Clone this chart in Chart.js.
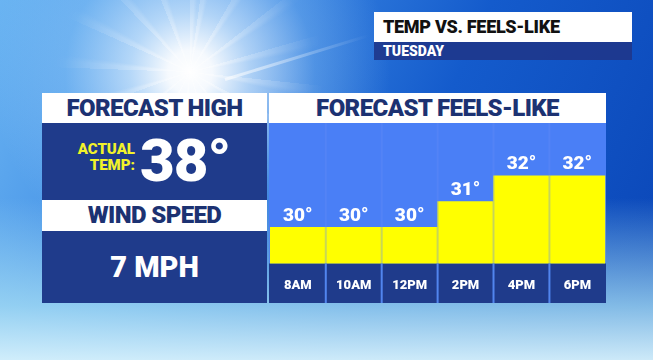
<!DOCTYPE html>
<html lang="en">
<head>
  <meta charset="UTF-8">
  <title>Temp vs. Feels-Like</title>
  <script src="https://cdn.jsdelivr.net/npm/chart.js"></script>
  <style>
    html, body { margin: 0; padding: 0; }
    body {
      width: 653px; height: 360px; overflow: hidden; position: relative;
      font-family: Roboto, "Liberation Sans", sans-serif; font-weight: 900;
      background:
        radial-gradient(circle at 190px 72px, rgba(255,255,255,1) 0, rgba(255,255,255,0.95) 22px, rgba(225,242,255,0.7) 60px, rgba(160,210,250,0.3) 125px, rgba(150,200,250,0) 200px),
        linear-gradient(to bottom, rgba(185,232,250,0) 55%, rgba(170,225,245,0.75) 85%, rgba(215,242,252,0.95) 100%),
        linear-gradient(115deg, #6ab4f2 0%, #3d8ae4 30%, #145bcc 60%, #0a45b6 100%);
    }
    #rays {
      position: absolute; left: 30px; top: -88px; width: 320px; height: 320px;
      background: repeating-conic-gradient(from 8deg, rgba(255,255,255,0.35) 0deg 3deg, rgba(255,255,255,0) 6deg 22deg);
      -webkit-mask-image: radial-gradient(circle, #000 10%, rgba(0,0,0,0.5) 30%, transparent 60%);
      mask-image: radial-gradient(circle, #000 10%, rgba(0,0,0,0.5) 30%, transparent 60%);
    }
    #trail {
      position: absolute; left: 225px; top: 78px; width: 150px; height: 3px;
      background: linear-gradient(to right, rgba(255,255,255,0.6), rgba(255,255,255,0));
      transform: rotate(-17deg); transform-origin: left center;
    }
    .box { position: absolute; box-sizing: border-box; }
    .white { background: #fff; color: #1c3272; text-align: center; }
    .navy { background: #1f3b8b; color: #fff; text-align: center; }
    .hdr { font-size: 24px; line-height: 30px; letter-spacing: -0.6px; }
    #title { left: 374px; top: 12px; width: 258px; height: 30px; background: #fff; color: #111;
      font-size: 18px; line-height: 30px; padding-left: 9px; letter-spacing: -0.3px; }
    #day { left: 374px; top: 42px; width: 258px; height: 18px; background: rgba(30,55,140,0.92); color: #fff;
      font-size: 14px; line-height: 18px; padding-left: 9px; }
    #actual { position: absolute; right: 132px; top: 18px; color: #f2f22a; font-size: 15px; line-height: 16px; text-align: right; }
    #big { position: absolute; left: 98px; top: 5px; font-size: 60px; line-height: 66px; letter-spacing: -1px; }
    #wind { font-size: 29px; line-height: 72px; }
    #chartBox { left: 269px; top: 123px; width: 337px; height: 180px; }
  </style>
</head>
<body>
  <div id="rays"></div>
  <div id="trail"></div>
  <div class="box" id="title">TEMP VS. FEELS-LIKE</div>
  <div class="box" id="day">TUESDAY</div>

  <div class="box white hdr" style="left:42px; top:93px; width:225px; height:30px;">FORECAST HIGH</div>
  <div class="box navy" style="left:42px; top:123px; width:225px; height:77px;">
    <div id="actual">ACTUAL<br>TEMP:</div>
    <div id="big">38°</div>
  </div>
  <div class="box white hdr" style="left:42px; top:200px; width:225px; height:31px; line-height:31px;">WIND SPEED</div>
  <div class="box navy" id="wind" style="left:42px; top:231px; width:225px; height:72px;">7 MPH</div>

  <div class="box white hdr" style="left:269px; top:93px; width:337px; height:30px;">FORECAST FEELS-LIKE</div>
  <div class="box" id="chartBox"><canvas id="feelsChart" width="337" height="180"></canvas></div>

  <script>
    // hourly feels-like values for Tuesday
    const hours = ['8AM', '10AM', '12PM', '2PM', '4PM', '6PM'];
    const feelsLike = [30, 30, 30, 31, 32, 32];

    const panelBg = {
      id: 'panelBg',
      beforeDraw(chart) {
        const { ctx, chartArea, width, height } = chart;
        ctx.save();
        ctx.fillStyle = '#4a7ff6';
        ctx.fillRect(0, 0, width, chartArea.bottom);
        ctx.fillStyle = '#1f3b8b';
        ctx.fillRect(0, chartArea.bottom, width, height - chartArea.bottom);
        ctx.restore();
      },
      afterDatasetsDraw(chart) {
        const { ctx, chartArea, height } = chart;
        const x = chart.scales.x;
        ctx.save();
        // separators between hours
        for (let i = 0; i < hours.length - 1; i++) {
          const px = (x.getPixelForValue(i) + x.getPixelForValue(i + 1)) / 2;
          ctx.fillStyle = 'rgba(100,140,245,0.35)';
          ctx.fillRect(px - 1, 0, 2, chartArea.bottom);
          ctx.fillStyle = '#5185ee';
          ctx.fillRect(px - 1, chartArea.bottom, 2, height - chartArea.bottom);
        }
        // value labels
        ctx.fillStyle = '#fff';
        ctx.font = '900 19px Roboto';
        ctx.textAlign = 'center';
        ctx.textBaseline = 'bottom';
        chart.getDatasetMeta(0).data.forEach((bar, i) => {
          ctx.fillText(feelsLike[i] + '°', bar.x, bar.y - 2);
        });
        ctx.restore();
      }
    };

    new Chart(document.getElementById('feelsChart'), {
      type: 'bar',
      data: {
        labels: hours,
        datasets: [{
          data: feelsLike,
          backgroundColor: '#ffff00',
          barPercentage: 1,
          categoryPercentage: 1,
          borderWidth: 0
        }]
      },
      options: {
        responsive: false,
        animation: false,
        layout: { padding: { top: 0, left: 0, right: 0, bottom: -6 } },
        plugins: { legend: { display: false }, tooltip: { enabled: false } },
        scales: {
          x: {
            grid: { display: false, drawTicks: false },
            border: { display: false },
            ticks: { color: '#fff', padding: 15, font: { family: 'Roboto', size: 13, weight: '900' } }
          },
          y: {
            display: false,
            min: 28.6,
            max: 34.05
          }
        }
      },
      plugins: [panelBg]
    });
  </script>
</body>
</html>
